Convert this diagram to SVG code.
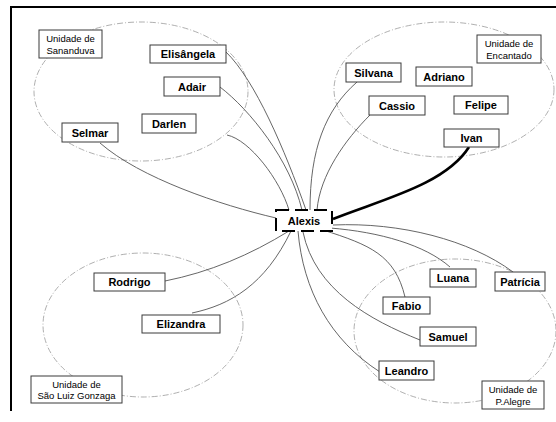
<svg xmlns="http://www.w3.org/2000/svg" width="556" height="422" viewBox="0 0 556 422">
<style>
.bg{fill:#fff}
.frame{stroke:#000;stroke-width:2;fill:none}
.zone{fill:none;stroke:#9a9a9a;stroke-width:0.8;stroke-dasharray:6 2 1 2}
.conn{fill:none;stroke:#555;stroke-width:0.9}
.strong{fill:none;stroke:#000;stroke-width:2.6}
.box{fill:#fff;stroke:#3a3a3a;stroke-width:1}
.hub{fill:#fff;stroke:#000;stroke-width:2;stroke-dasharray:13 6}
.name{font-family:"Liberation Sans",Arial,sans-serif;font-size:11px;font-weight:bold;fill:#000;text-anchor:middle}
.lbl{font-family:"Liberation Sans",Arial,sans-serif;font-size:9.5px;fill:#000;text-anchor:middle}
</style>
<rect class="bg" x="0" y="0" width="556" height="422"/>
<path class="frame" d="M11,411 V7 H556"/>
<g id="zones">
<ellipse class="zone" cx="141" cy="91.5" rx="107" ry="69.5"/>
<ellipse class="zone" cx="444" cy="89.5" rx="110" ry="67.5"/>
<ellipse class="zone" cx="143" cy="325" rx="100" ry="72"/>
<ellipse class="zone" cx="455" cy="331" rx="101" ry="72"/>
</g>
<g id="connectors">
<path class="conn" d="M226,52 C255,80 285,150 306,210"/>
<path class="conn" d="M220,87 C250,110 290,160 302,210"/>
<path class="conn" d="M227,135 C250,140 280,180 289,210"/>
<path class="conn" d="M100,143 C140,178 220,205 276,218"/>
<path class="conn" d="M357,82 C325,110 310,150 310,210"/>
<path class="conn" d="M370,115 C345,140 320,175 317,210"/>
<path class="strong" d="M469,147 C445,185 380,200 333,219"/>
<path class="conn" d="M165,281 C210,272 250,255 289,231"/>
<path class="conn" d="M192,313 C230,305 265,285 291,231"/>
<path class="conn" d="M298,231 C303,290 330,340 380,372"/>
<path class="conn" d="M303,232 C315,290 370,320 420,340"/>
<path class="conn" d="M323,230 C370,245 395,255 405,297"/>
<path class="conn" d="M330,228 C380,232 425,245 450,267"/>
<path class="conn" d="M333,225 C400,222 470,240 513,272"/>
</g>
<g id="unit-sananduva"><rect class="box" x="39" y="30" width="63" height="28"/><text class="lbl" x="70.5" y="42">Unidade de</text><text class="lbl" x="70.5" y="53.5">Sananduva</text></g>
<g id="unit-encantado"><rect class="box" x="477" y="35" width="64" height="28"/><text class="lbl" x="509" y="47">Unidade de</text><text class="lbl" x="509" y="58.5">Encantado</text></g>
<g id="unit-saoluiz"><rect class="box" x="31" y="376" width="91" height="27"/><text class="lbl" x="76.5" y="387.5">Unidade de</text><text class="lbl" x="76.5" y="399">São Luiz Gonzaga</text></g>
<g id="unit-palegre"><rect class="box" x="482" y="381" width="62" height="28"/><text class="lbl" x="513" y="393">Unidade de</text><text class="lbl" x="513" y="404.5">P.Alegre</text></g>
<g id="elisangela"><rect class="box" x="150" y="45" width="76" height="18"/><text class="name" x="188" y="58">Elisângela</text></g>
<g id="adair"><rect class="box" x="164" y="77" width="56" height="19"/><text class="name" x="192" y="90.5">Adair</text></g>
<g id="darlen"><rect class="box" x="142" y="114" width="54" height="19"/><text class="name" x="169" y="127.5">Darlen</text></g>
<g id="selmar"><rect class="box" x="62" y="123" width="56" height="19"/><text class="name" x="90" y="136.5">Selmar</text></g>
<g id="silvana"><rect class="box" x="346" y="63" width="55" height="19"/><text class="name" x="373.5" y="76.5">Silvana</text></g>
<g id="adriano"><rect class="box" x="416" y="67" width="56" height="19"/><text class="name" x="444" y="80.5">Adriano</text></g>
<g id="cassio"><rect class="box" x="369" y="96" width="56" height="19"/><text class="name" x="397" y="109.5">Cassio</text></g>
<g id="felipe"><rect class="box" x="454" y="96" width="54" height="18"/><text class="name" x="481" y="109">Felipe</text></g>
<g id="ivan"><rect class="box" x="444" y="129" width="55" height="18"/><text class="name" x="471.5" y="142">Ivan</text></g>
<g id="rodrigo"><rect class="box" x="94" y="273" width="71" height="18"/><text class="name" x="129.5" y="286">Rodrigo</text></g>
<g id="elizandra"><rect class="box" x="142" y="315" width="78" height="18"/><text class="name" x="181" y="328">Elizandra</text></g>
<g id="alexis"><rect class="hub" x="276" y="210" width="56" height="21"/><text class="name" x="304" y="224.5">Alexis</text></g>
<g id="luana"><rect class="box" x="430" y="269" width="46" height="18"/><text class="name" x="453" y="282">Luana</text></g>
<g id="patricia"><rect class="box" x="495" y="272" width="50" height="19"/><text class="name" x="520" y="285.5">Patrícia</text></g>
<g id="fabio"><rect class="box" x="383" y="297" width="47" height="17"/><text class="name" x="406.5" y="309.5">Fabio</text></g>
<g id="samuel"><rect class="box" x="420" y="327" width="56" height="19"/><text class="name" x="448" y="340.5">Samuel</text></g>
<g id="leandro"><rect class="box" x="379" y="361" width="55" height="19"/><text class="name" x="406.5" y="374.5">Leandro</text></g>
</svg>
